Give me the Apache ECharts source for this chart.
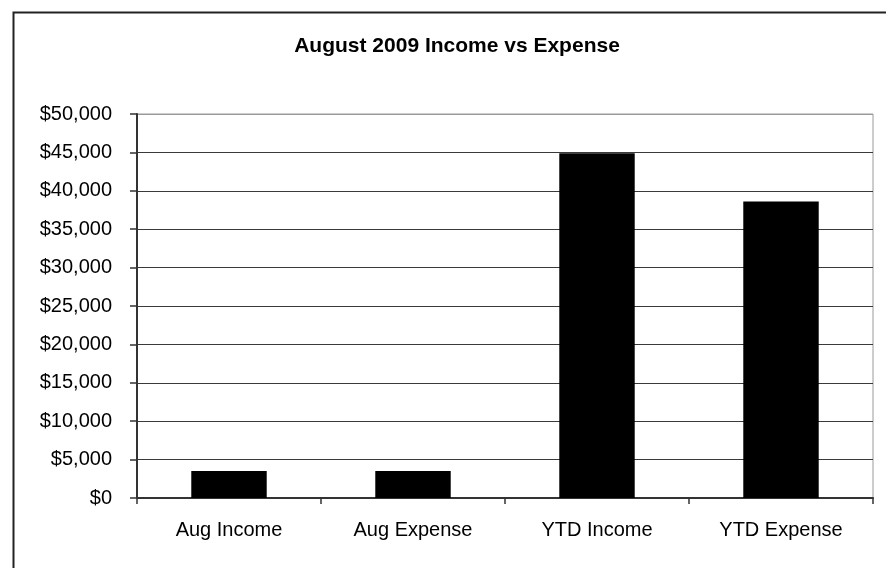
<!DOCTYPE html>
<html>
<head>
<meta charset="utf-8">
<script src="https://cdn.jsdelivr.net/npm/echarts@6/dist/echarts.min.js"></script>
<style>html,body{margin:0;padding:0;background:#fff;}#c{width:886px;height:568px;}</style>
</head>
<body>
<div id="c"></div>
<script>
var titleText = 'August 2009 Income vs Expense';
var categories = ['Aug Income', 'Aug Expense', 'YTD Income', 'YTD Expense'];
var values = [3500, 3500, 44900, 38600];
var yMin = 0, yMax = 50000, yStep = 5000;

var chart = echarts.init(document.getElementById('c'));
var font = '"Liberation Sans", Arial, sans-serif';
var gridColors = [];
for (var i = 0; i < 11; i++) gridColors.push(i === 10 ? '#9a9a9a' : '#3a3a3a');

chart.setOption({
  animation: false,
  backgroundColor: '#fff',
  title: {
    text: titleText,
    left: 452, top: 31, textAlign: 'center',
    textStyle: { fontFamily: font, fontSize: 21, fontWeight: 'bold', color: '#000' }
  },
  graphic: [{
    type: 'rect', left: 11, top: 10, silent: true,
    shape: { width: 900, height: 600 },
    style: { fill: 'none', stroke: '#222', lineWidth: 2 }
  }],
  grid: { left: 137, right: 13, top: 114, bottom: 70, show: true, borderColor: '#9a9a9a', borderWidth: 1, containLabel: false },
  xAxis: {
    type: 'category', data: categories,
    axisLine: { lineStyle: { color: '#333', width: 2 } },
    axisTick: { show: true, length: 6, lineStyle: { color: '#333', width: 1.5 } },
    axisLabel: { color: '#000', fontFamily: font, fontSize: 20, margin: 22 }
  },
  yAxis: {
    type: 'value', min: yMin, max: yMax, interval: yStep,
    axisLine: { show: true, lineStyle: { color: '#333', width: 2 } },
    axisTick: { show: true, length: 7, lineStyle: { color: '#333', width: 1.5 } },
    splitLine: { show: true, lineStyle: { color: gridColors, width: 1.2 } },
    axisLabel: {
      color: '#000', fontFamily: font, fontSize: 20, margin: 25,
      formatter: function (v) { return '$' + v.toLocaleString('en-US'); }
    }
  },
  series: [{
    type: 'bar', data: values, barWidth: '41%',
    itemStyle: { color: '#000' }
  }]
});
</script>
</body>
</html>
